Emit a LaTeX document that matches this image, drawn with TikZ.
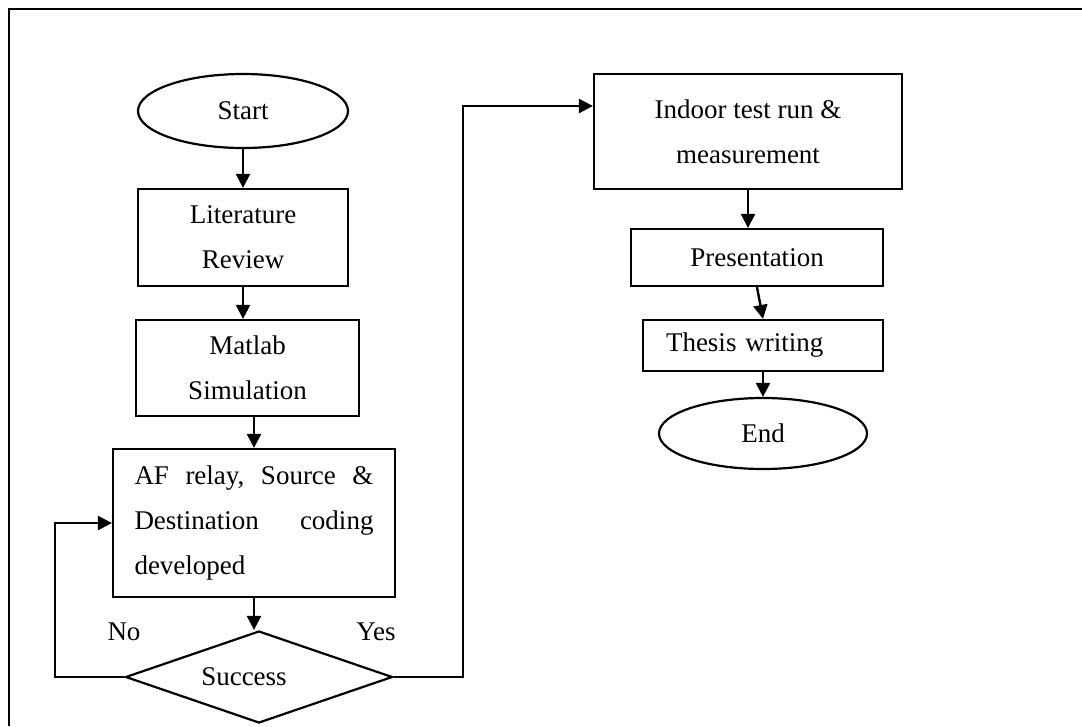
\documentclass[tikz,border=0pt]{standalone}
\usepackage{fontspec}
\setmainfont{Liberation Serif}
\usetikzlibrary{shapes.geometric}
\usetikzlibrary{positioning}
\usetikzlibrary{arrows.meta}

\tikzset{
  box/.style={draw, line width=2.2pt, rectangle, align=center, inner sep=0pt},
  term/.style={draw, line width=2.2pt, ellipse, inner sep=0pt},
  decide/.style={draw, line width=2.2pt, diamond, aspect=2.9, inner sep=0pt},
  flow/.style={line width=2.4pt, -{Triangle[length=14pt,width=14pt]}},
}

\begin{document}
\begin{tikzpicture}[x=1pt, y=-1pt, font=\fontsize{27}{45}\selectfont]

%---------------------------------------
% Page and frame
%---------------------------------------
\useasboundingbox (0,0) rectangle (1082,726);
\draw[line width=2.2pt] (9,726) -- (9,9) -- (1082,9);

%====================================================
% LEFT COLUMN: design steps
%====================================================
\node[term, minimum width=210pt, minimum height=74pt] (start) at (243,111) {Start};
\node[box, minimum width=210pt, minimum height=97pt] (lit) at (243,237.5) {Literature\\Review};
\node[box, minimum width=223pt, minimum height=96pt] (mat) at (247.5,368) {Matlab\\Simulation};
\node[box, minimum width=282pt, minimum height=148pt, align=left] (af) at (254,523)
  {\hbox to 239pt{AF\hfill relay,\hfill Source\hfill \&}\\
   \hbox to 239pt{Destination\hfill coding}\\
   \hbox to 239pt{developed\hfill}};
\node[decide, minimum width=267pt, minimum height=92pt] (dec) at (259,677) {Success\hspace*{30pt}};

% decision labels
\node (no) at (124,632) {No};
\node (yes) at (376,632) {Yes};

%====================================================
% RIGHT COLUMN: testing and writing
%====================================================
\node[box, minimum width=308pt, minimum height=115pt] (indoor) at (748,131.5) {Indoor test run \&\\measurement};
\node[box, minimum width=252pt, minimum height=57pt] (pres) at (757,257.5) {Presentation};
\node[box, minimum height=51pt, text width=194pt, inner xsep=23pt, align=left] (thesis) at (763,345.5) {Thesis writing};
\node[term, minimum width=208pt, minimum height=71pt] (stop) at (763,433.5) {End};

% ---- Connectors ----
\draw[flow] (start.south) -- (lit.north);
\draw[flow] (lit.south) -- (lit.south |- mat.north);
\draw[flow] (af.north |- mat.south) -- (af.north);
\draw[flow] (af.south) -- (af.south |- dec.north);

% No: back into the coding step
\coordinate (noturn) at (55,677);
\draw[flow] (dec.west) -- (noturn) |- (af.west);

% Yes: over to the indoor test
\coordinate (yesturn) at (463,677);
\coordinate (yestop) at (463,106);
\draw[flow] (dec.east) -- (yesturn) -- (yestop) -- (yestop -| indoor.west);

\draw[flow] (indoor.south) -- (indoor.south |- pres.north);
\draw[flow] (pres.south) -- (thesis.north);
\draw[flow] (thesis.south) -- (stop.north);

\end{tikzpicture}
\end{document}
